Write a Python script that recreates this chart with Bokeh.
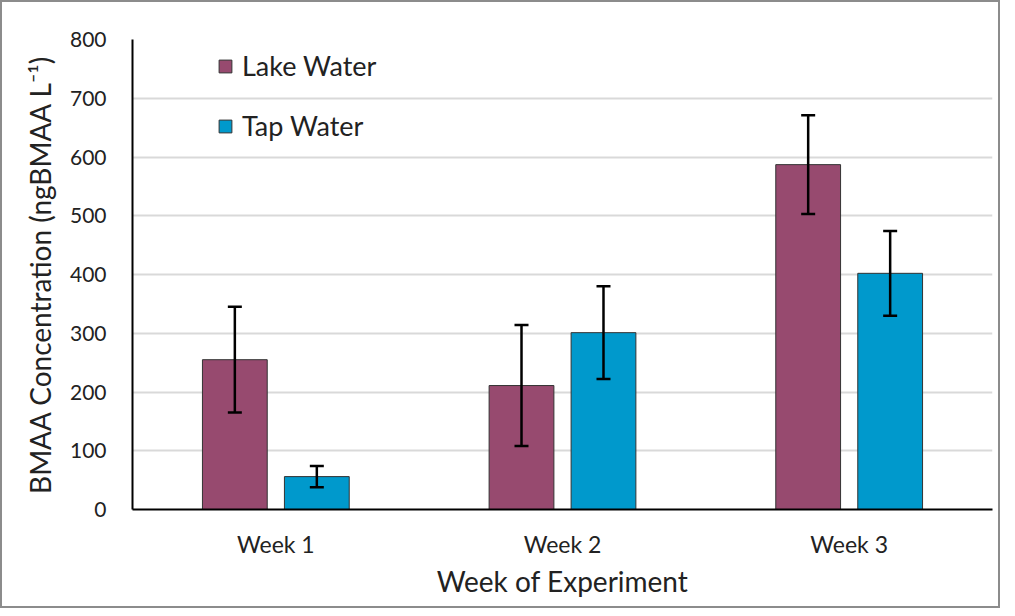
from bokeh.plotting import figure
from bokeh.models import ColumnDataSource, FactorRange, Range1d, Whisker, Legend, LegendItem, SingleIntervalTicker
from bokeh.transform import dodge
from bokeh.embed import file_html
from bokeh.resources import INLINE

weeks = ["Week 1", "Week 2", "Week 3"]
lake = [255, 211, 587]
lake_err = [90, 103, 84]
tap = [56, 301, 402]
tap_err = [18, 79, 72]

FONT = "Lato"

src = ColumnDataSource(dict(
    week=weeks,
    lake=lake,
    lake_lo=[v - e for v, e in zip(lake, lake_err)],
    lake_hi=[v + e for v, e in zip(lake, lake_err)],
    tap=tap,
    tap_lo=[v - e for v, e in zip(tap, tap_err)],
    tap_hi=[v + e for v, e in zip(tap, tap_err)],
))

p = figure(width=1000, height=608, x_range=FactorRange(*weeks, range_padding=0),
           y_range=Range1d(0, 800), output_backend="svg", toolbar_location=None,
           min_border_left=130, min_border_right=10, min_border_top=37, min_border_bottom=101)
p.styles = {"border": "2px solid #8c8c8c", "box-sizing": "border-box"}
p.outline_line_color = None

off = 0.143
bw = 0.226
r1 = p.vbar(x=dodge("week", -off, range=p.x_range), top="lake", width=bw, source=src,
            fill_color="#974A6F", line_color="#333333", line_width=1)
r2 = p.vbar(x=dodge("week", off, range=p.x_range), top="tap", width=bw, source=src,
            fill_color="#0099CC", line_color="#333333", line_width=1)

for name, sgn in (("lake", -1), ("tap", 1)):
    w = Whisker(base=dodge("week", sgn * off, range=p.x_range), lower=f"{name}_lo", upper=f"{name}_hi",
                source=src, line_color="black", line_width=2.5, level="overlay")
    w.upper_head.size = 14
    w.lower_head.size = 14
    w.upper_head.line_width = 2.5
    w.lower_head.line_width = 2.5
    p.add_layout(w)

p.yaxis.ticker = SingleIntervalTicker(interval=100)
p.ygrid.grid_line_color = "#d9d9d9"
p.ygrid.grid_line_width = 2
p.xgrid.grid_line_color = None
for ax in (p.xaxis[0], p.yaxis[0]):
    ax.axis_line_color = "black"
    ax.axis_line_width = 2
    ax.major_tick_line_color = None
    ax.minor_tick_line_color = None
    ax.major_label_text_font = FONT
    ax.major_label_text_color = "#222222"
    ax.axis_label_text_font = FONT
    ax.axis_label_text_font_style = "normal"
    ax.axis_label_text_color = "#222222"
p.yaxis.major_label_text_font_size = "21px"
p.xaxis.major_label_text_font_size = "23px"
p.yaxis.axis_label = "BMAA Concentration (ngBMAA L\u207b\u00b9)"
p.xaxis.axis_label = "Week of Experiment"
p.yaxis.axis_label_text_font_size = "28px"
p.xaxis.axis_label_text_font_size = "28px"
p.yaxis.axis_label_standoff = 10
p.xaxis.axis_label_standoff = 3
p.xaxis.major_label_standoff = 14
p.yaxis.major_label_standoff = 20

legend = Legend(items=[LegendItem(label="Lake Water", renderers=[r1]),
                       LegendItem(label="Tap Water", renderers=[r2])],
                location=(85, 367), orientation="vertical")
legend.label_text_font = FONT
legend.label_text_font_size = "27px"
legend.label_text_color = "#222222"
legend.glyph_width = 16
legend.glyph_height = 16
legend.spacing = 27
legend.border_line_color = None
legend.background_fill_alpha = 0
legend.label_standoff = 9
p.add_layout(legend)

open("out.html", "w").write(file_html(p, INLINE))
